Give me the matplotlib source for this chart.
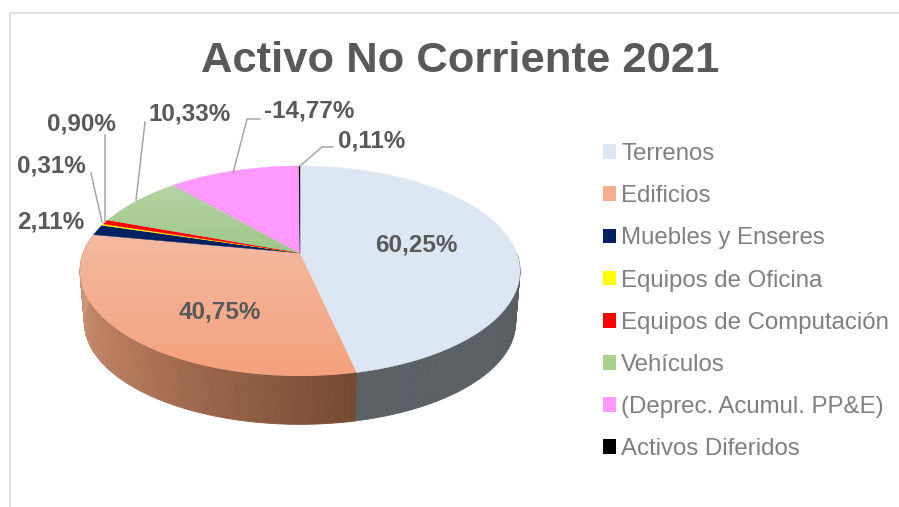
import numpy as np
import matplotlib
matplotlib.use('Agg')
import matplotlib.pyplot as plt
from matplotlib.patches import Patch, Polygon

# data
categories=['Terrenos','Edificios','Muebles y Enseres','Equipos de Oficina',
            'Equipos de Computación','Vehículos','(Deprec. Acumul. PP&E)','Activos Diferidos']
values=[60.25,40.75,2.11,0.31,0.90,10.33,-14.77,0.11]
colors=['#DCE6F2','#F4AE90','#002060','#FFFF00','#FF0000','#A9D18E','#FF99FF','#000000']
title='Activo No Corriente 2021'

plt.rcParams['font.family']=['Liberation Sans','DejaVu Sans']
gray='#595959'

fig=plt.figure(figsize=(8.99,5.07),dpi=100)
ax=fig.add_axes([0,0,1,1])
ax.set_xlim(0,899)
ax.set_ylim(507,0)
ax.axis('off')

# chart frame
ax.plot([9.5,9.5,899],[507,12.5,12.5],color='#D9D9D9',lw=1.2)

# pie projection, a circle seen in perspective
cx,cy=300,253
R,S,k=216.7,101.9,0.1717
depth=52
def rim(ang,lower=False):
    u,v=np.sin(ang),np.cos(ang)
    w=1+k*v
    if lower:
        return cx+0.98*R*u/w,cy+depth-0.97*S*v/w
    return cx+R*u/w,cy-S*v/w

def mix(c1,c2,t):
    return tuple(np.array(c1)*(1-t)+np.array(c2)*t)

sizes=np.abs(values)
edges=np.concatenate([[0],np.cumsum(sizes)])/sizes.sum()*2*np.pi

# side wall, only the front part shows
side_stops=[[(0.39,0.43,0.49),(0.35,0.37,0.39),(0.36,0.38,0.40)],
            [(0.85,0.62,0.50),(0.70,0.47,0.35),(0.46,0.29,0.20)]]
for i in [0,1]:
    a=np.linspace(edges[i],edges[i+1],160)
    a=a[(a>np.pi/2)&(a<3*np.pi/2+0.2)]
    for j in range(len(a)-1):
        t=j/(len(a)-2)
        if i==0:
            col=mix(side_stops[0][0],side_stops[0][1],min(t*6,1))
            col=mix(col,side_stops[0][2],t)
        else:
            t=1-t
            col=mix(side_stops[1][0],side_stops[1][1],min(t*2,1))
            col=mix(col,side_stops[1][2],max(t*2-1,0))
        x0,y0=rim(a[j]); x1,y1=rim(a[j+1])
        x2,y2=rim(a[j+1],True); x3,y3=rim(a[j],True)
        ax.add_patch(Polygon([[x0,y0],[x1,y1],[x2,y2],[x3,y3]],closed=True,
                             fc=col,ec=col,lw=0.6,zorder=2))

# top face, clipped vertical gradient
ramp=np.linspace(0,1,256).reshape(-1,1)
grads={1:((0.95,0.73,0.63),(0.96,0.63,0.49)),
       5:((0.71,0.83,0.64),(0.62,0.78,0.54))}
for i,col in enumerate(colors):
    a=np.linspace(edges[i],edges[i+1],max(int(sizes[i]*4),3))
    x,y=rim(a)
    pts=np.column_stack([np.r_[cx,x],np.r_[cy,y]])
    if i in grads:
        c0,c1=np.array(grads[i][0]),np.array(grads[i][1])
        img=(c0+(c1-c0)*ramp[...,None]).reshape(256,1,3)
        top,bot=pts[:,1].min(),pts[:,1].max()
        poly=Polygon(pts,closed=True,fc='none',ec='none',transform=ax.transData)
        ax.add_patch(poly)
        im=ax.imshow(img,extent=[pts[:,0].min(),pts[:,0].max(),bot,top],aspect='auto',zorder=3)
        im.set_clip_path(poly)
    else:
        ax.add_patch(Polygon(pts,closed=True,fc=col,ec=col,lw=0.3,zorder=3))
ax.set_xlim(0,899)
ax.set_ylim(507,0)

# leader lines
leaders=[[(91,173),(102,222)],[(105,135),(105,222)],[(145,122),(136,200)],
         [(260,119),(247,119),(233,173)],[(333,147),(322,147),(300,166)]]
for ln in leaders:
    xs,ys=zip(*ln)
    ax.plot(xs,ys,color='#A6A6A6',lw=1.1,zorder=4)

# data labels
label_pos=[(416,245),(220,312),(51,222),(51,166),(81,124),(190,114),(309,111),(372,141)]
for val,(lx,ly) in zip(values,label_pos):
    ax.text(lx,ly,'{0:.2f}%'.format(val).replace('.',','),ha='center',va='center',
            fontsize=17.5,fontweight='bold',color=gray,zorder=5)

ax.text(460,60.5,title,ha='center',va='center',fontsize=31.3,fontweight='bold',color=gray)

handles=[Patch(fc=c,ec='none') for c in colors]
ax.legend(handles,categories,loc='upper left',bbox_to_anchor=(0.6705,0.718),frameon=False,
          fontsize=17.3,labelcolor='#7F7F7F',handlelength=0.56,handleheight=0.56,
          handletextpad=0.2,labelspacing=0.84,borderpad=0,borderaxespad=0)

fig.savefig('out.png',dpi=100)
